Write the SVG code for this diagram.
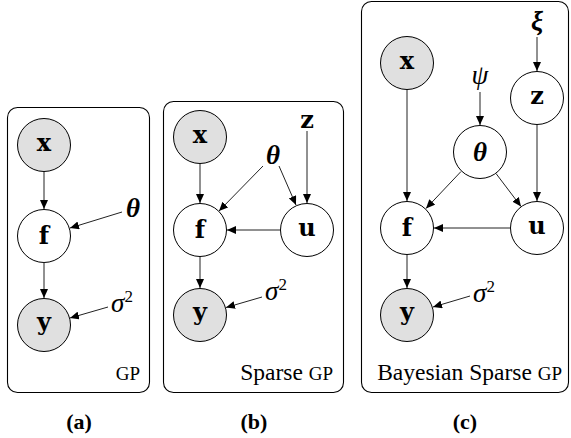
<svg xmlns="http://www.w3.org/2000/svg" width="571" height="438" viewBox="0 0 571 438">
  <style>
    .frame { fill: none; stroke: #000; stroke-width: 1.1; }
    .node circle { fill: #fff; stroke: #000; stroke-width: 1; }
    .node.obs circle { fill: #e0e0e0; }
    .sym { font-family: "DejaVu Serif", "Liberation Serif", serif; font-weight: bold; font-size: 24px; text-anchor: middle; fill: #000; }
    .greek { font-family: "Liberation Serif", "DejaVu Serif", serif; font-style: italic; font-size: 27px; text-anchor: middle; fill: #000; }
    .bold { font-weight: bold; }
    .sup { font-size: 17px; font-style: normal; }
    .title { font-family: "Liberation Serif", "DejaVu Serif", serif; font-size: 23.5px; text-anchor: end; fill: #000; }
    .sc { font-size: 19px; }
    .cap { font-family: "Liberation Serif", "DejaVu Serif", serif; font-weight: bold; font-size: 22px; text-anchor: middle; fill: #000; }
    #connectors path { fill: none; stroke: #222; stroke-width: 1; marker-end: url(#arrow); }
  </style>
  <defs>
    <marker id="arrow" markerUnits="userSpaceOnUse" markerWidth="10" markerHeight="8" refX="9" refY="4" orient="auto">
      <path d="M0,0 L9,4 L0,8 Z" fill="#000"/>
    </marker>
  </defs>

  <!-- panel frames -->
  <rect class="frame" x="7.5" y="107.5" width="142" height="285" rx="10"/>
  <rect class="frame" x="163.5" y="101.5" width="180" height="291" rx="10"/>
  <rect class="frame" x="361.5" y="1.5" width="207" height="391" rx="10"/>

  <!-- panel (a): GP -->
  <g id="a-x" class="node obs"><circle cx="44" cy="145" r="26.5"/><text class="sym" x="44" y="151">x</text></g>
  <g id="a-f" class="node"><circle cx="44" cy="236" r="26.5"/><text class="sym" x="44" y="244">f</text></g>
  <g id="a-y" class="node obs"><circle cx="44" cy="325" r="26.5"/><text class="sym" x="44" y="330">y</text></g>
  <text class="greek bold" x="133" y="217">θ</text>
  <text class="greek" x="122" y="312">σ<tspan class="sup" dy="-10">2</tspan></text>

  <!-- panel (b): sparse GP -->
  <g id="b-x" class="node obs"><circle cx="200" cy="137" r="26.5"/><text class="sym" x="200" y="143">x</text></g>
  <g id="b-f" class="node"><circle cx="200" cy="230" r="26.5"/><text class="sym" x="200" y="238">f</text></g>
  <g id="b-u" class="node"><circle cx="307" cy="230" r="26.5"/><text class="sym" x="307" y="236">u</text></g>
  <g id="b-y" class="node obs"><circle cx="200" cy="315" r="26.5"/><text class="sym" x="200" y="320">y</text></g>
  <text class="sym" x="307" y="128">z</text>
  <text class="greek bold" x="273" y="164">θ</text>
  <text class="greek" x="276" y="300">σ<tspan class="sup" dy="-10">2</tspan></text>

  <!-- panel (c): Bayesian sparse GP -->
  <g id="c-x" class="node obs"><circle cx="407" cy="63" r="26.5"/><text class="sym" x="407" y="69">x</text></g>
  <g id="c-z" class="node"><circle cx="537" cy="98" r="26.5"/><text class="sym" x="537" y="104">z</text></g>
  <g id="c-theta" class="node"><circle cx="480" cy="152" r="26.5"/><text class="greek bold" x="480" y="161">θ</text></g>
  <g id="c-f" class="node"><circle cx="407" cy="228" r="26.5"/><text class="sym" x="407" y="236">f</text></g>
  <g id="c-u" class="node"><circle cx="537" cy="228" r="26.5"/><text class="sym" x="537" y="234">u</text></g>
  <g id="c-y" class="node obs"><circle cx="407" cy="315" r="26.5"/><text class="sym" x="407" y="320">y</text></g>
  <text class="greek bold" x="537" y="30">ξ</text>
  <text class="greek" x="480" y="84">ψ</text>
  <text class="greek" x="484" y="302">σ<tspan class="sup" dy="-10">2</tspan></text>

  <!-- edges -->
  <g id="connectors">
    <path d="M44,172 L44,209"/>
    <path d="M44,262 L44,298"/>
    <path d="M122,212 L70,228"/>
    <path d="M108,307 L70,318"/>

    <path d="M200,164 L200,203"/>
    <path d="M200,257 L200,288"/>
    <path d="M280,230 L227,230"/>
    <path d="M307,131 L307,203"/>
    <path d="M263,166 L219,211"/>
    <path d="M279,166 L296,205"/>
    <path d="M262,297 L226,307.5"/>

    <path d="M537,37 L537,71"/>
    <path d="M480,92 L480,125"/>
    <path d="M407,90 L407,201"/>
    <path d="M537,125 L537,201"/>
    <path d="M461,171.5 L426,208.5"/>
    <path d="M496,173.5 L521,206.5"/>
    <path d="M510,228 L434,228"/>
    <path d="M407,255 L407,288"/>
    <path d="M470,296 L433,307"/>
  </g>

  <!-- panel titles -->
  <text class="title" x="140" y="380"><tspan class="sc">GP</tspan></text>
  <text class="title" x="333" y="380">Sparse <tspan class="sc">GP</tspan></text>
  <text class="title" x="562" y="380">Bayesian Sparse <tspan class="sc">GP</tspan></text>

  <!-- sub-figure captions -->
  <text class="cap" x="79" y="429">(a)</text>
  <text class="cap" x="254" y="429">(b)</text>
  <text class="cap" x="465" y="429">(c)</text>
</svg>
